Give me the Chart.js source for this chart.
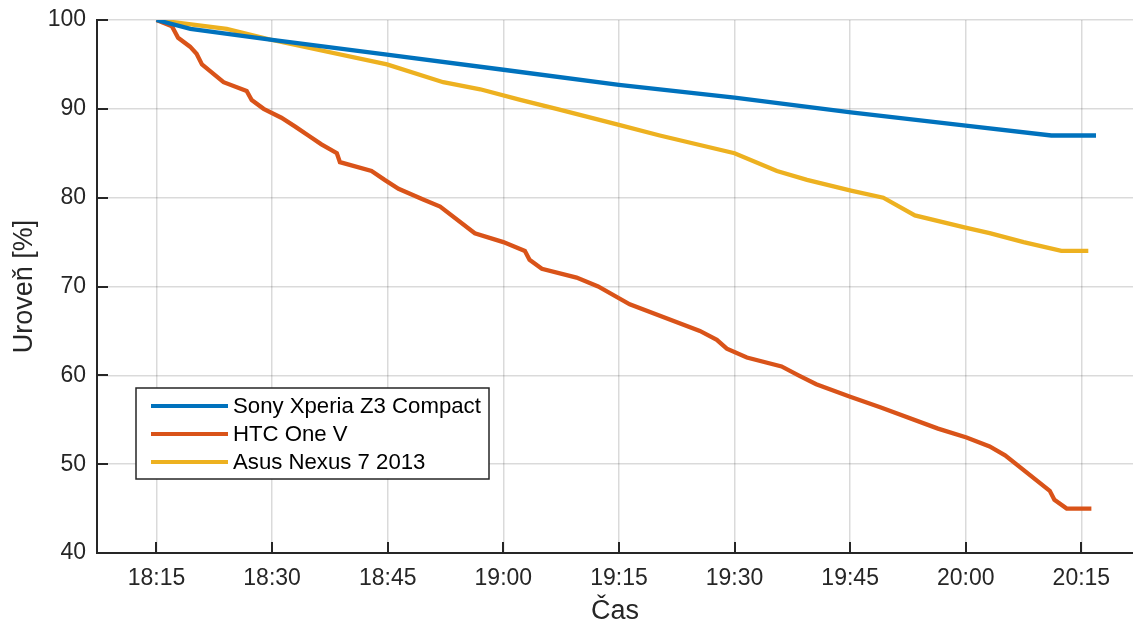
<!DOCTYPE html>
<html>
<head>
<meta charset="utf-8">
<script src="https://cdn.jsdelivr.net/npm/chart.js@4/dist/chart.umd.min.js"></script>
<style>
  html, body { margin: 0; padding: 0; background: #fff; }
  #wrap { width: 1133px; height: 623px; position: relative; }
</style>
</head>
<body>
<div id="wrap"><canvas id="graf"></canvas></div>
<script>
// čas = minuty od 18:00
const casTicks = [15, 30, 45, 60, 75, 90, 105, 120, 135];
const urovenTicks = [40, 50, 60, 70, 80, 90, 100];

const sonyCas = [15, 19.4, 30, 44.9, 60, 75, 90, 105.1, 120, 131.1, 136.9];
const sonyUroven = [100, 99, 97.75, 96.1, 94.4, 92.7, 91.25, 89.6, 88.1, 87, 87];

const htcCas = [15, 17, 17.8, 19.35, 20.2, 20.9, 23.7, 26.7, 27.35, 28.9, 31.2, 33, 34.7, 36.4, 38.4, 38.8,
  42.9, 44.6, 46.4, 49.6, 51.8, 56.3, 60, 62.8, 63.4, 65, 69.5, 72.3, 76.4, 85.5, 87.7, 89, 91.6, 96.1,
  98.3, 100.6, 105, 108.9, 116.4, 120.1, 123.1, 125.1, 130.9, 131.5, 133.1, 136.3];
const htcUroven = [100, 99.3, 98, 97, 96.2, 95, 93, 92, 91, 90, 89, 88, 87, 86, 85, 84,
  83, 82, 81, 79.8, 79, 76, 75, 74, 73, 72, 71, 70, 68, 65, 64, 63, 62, 61,
  60, 59, 57.6, 56.4, 54, 53, 52, 51, 47, 46, 45, 45];

const asusCas = [15, 24.1, 30, 44.9, 52.2, 57, 62.2, 66.9, 75, 80.3, 90, 95.5, 99.4, 105.1, 109.3, 113.4,
  120.1, 123.1, 127.5, 132.4, 135.9];
const asusUroven = [100, 99, 97.75, 95, 93, 92.2, 91, 90, 88.2, 87, 85, 83, 82, 80.8, 80, 78,
  76.6, 76, 75, 74, 74];

const nazvy = ['Sony Xperia Z3 Compact', 'HTC One V', 'Asus Nexus 7 2013'];
const barvy = ['#0072BD', '#D95319', '#EDB120'];

const ink = '#262626';
const font = 'Liberation Sans, Arial, Helvetica, sans-serif';

function body(casy, hodnoty) {
  return casy.map((c, i) => ({ x: c, y: hodnoty[i] }));
}

function fmtCas(v) {
  const h = 18 + Math.floor(v / 60);
  const m = Math.round(v % 60);
  return `${h}:${String(m).padStart(2, '0')}`;
}

// tick marks uvnitř os + legenda v grafu
const znackyALegenda = {
  id: 'znackyALegenda',
  afterDraw(chart) {
    const { ctx, chartArea: a, scales } = chart;
    ctx.save();
    ctx.strokeStyle = ink;
    ctx.lineWidth = 2;
    ctx.beginPath();
    scales.x.ticks.forEach((t) => {
      const px = Math.round(scales.x.getPixelForValue(t.value));
      ctx.moveTo(px, a.bottom);
      ctx.lineTo(px, a.bottom - 11);
    });
    scales.y.ticks.forEach((t) => {
      const py = Math.round(scales.y.getPixelForValue(t.value));
      ctx.moveTo(a.left, py);
      ctx.lineTo(a.left + 11, py);
    });
    ctx.stroke();

    // legenda
    const lx = 136, ly = 388, lw = 353, lh = 91;
    ctx.fillStyle = '#fff';
    ctx.fillRect(lx, ly, lw, lh);
    ctx.strokeStyle = ink;
    ctx.lineWidth = 1.5;
    ctx.strokeRect(lx, ly, lw, lh);
    ctx.font = `22.2px ${font}`;
    ctx.textBaseline = 'middle';
    ctx.textAlign = 'left';
    chart.data.datasets.forEach((ds, i) => {
      const y = 406 + i * 28;
      ctx.strokeStyle = ds.borderColor;
      ctx.lineWidth = 4;
      ctx.beginPath();
      ctx.moveTo(151, y);
      ctx.lineTo(228, y);
      ctx.stroke();
      ctx.fillStyle = '#000';
      ctx.fillText(ds.label, 233, y + 1);
    });
    ctx.restore();
  },
};

new Chart(document.getElementById('graf'), {
  type: 'line',
  data: {
    datasets: [
      { label: nazvy[0], data: body(sonyCas, sonyUroven), borderColor: barvy[0] },
      { label: nazvy[1], data: body(htcCas, htcUroven), borderColor: barvy[1] },
      { label: nazvy[2], data: body(asusCas, asusUroven), borderColor: barvy[2] },
    ].map((d) => ({ ...d, borderWidth: 4.3, pointRadius: 0, tension: 0, fill: false })),
  },
  options: {
    responsive: true,
    maintainAspectRatio: false,
    animation: false,
    layout: { padding: { top: 20, right: 0, left: 0, bottom: 0 } },
    plugins: {
      legend: { display: false },
      tooltip: { enabled: false },
    },
    scales: {
      x: {
        type: 'linear',
        min: 7.28,
        max: 141.7,
        afterBuildTicks(scale) {
          scale.ticks = casTicks.map((v) => ({ value: v }));
        },
        afterFit(scale) {
          scale.height = 70;
          scale.paddingLeft = 0;
          scale.paddingRight = 0;
        },
        ticks: {
          color: ink,
          font: { family: font, size: 23 },
          padding: 12,
          maxRotation: 0,
          callback: (v) => fmtCas(v),
        },
        grid: { color: 'rgba(38,38,38,0.17)', lineWidth: 1.5, drawTicks: false },
        border: { color: ink, width: 2 },
        title: {
          display: true,
          text: 'Čas',
          color: ink,
          font: { family: font, size: 27 },
          padding: { top: 0, bottom: -5 },
        },
      },
      y: {
        min: 40,
        max: 100,
        afterBuildTicks(scale) {
          scale.ticks = urovenTicks.map((v) => ({ value: v }));
        },
        afterFit(scale) {
          scale.width = 97;
          scale.paddingTop = 0;
          scale.paddingBottom = 0;
        },
        ticks: {
          color: ink,
          font: { family: font, size: 23 },
          padding: 11,
        },
        grid: { color: 'rgba(38,38,38,0.17)', lineWidth: 1.5, drawTicks: false },
        border: { color: ink, width: 2 },
        title: {
          display: true,
          text: 'Uroveň [%]',
          color: ink,
          font: { family: font, size: 27 },
          padding: { top: 8, bottom: 0 },
        },
      },
    },
  },
  plugins: [znackyALegenda],
});
</script>
</body>
</html>
